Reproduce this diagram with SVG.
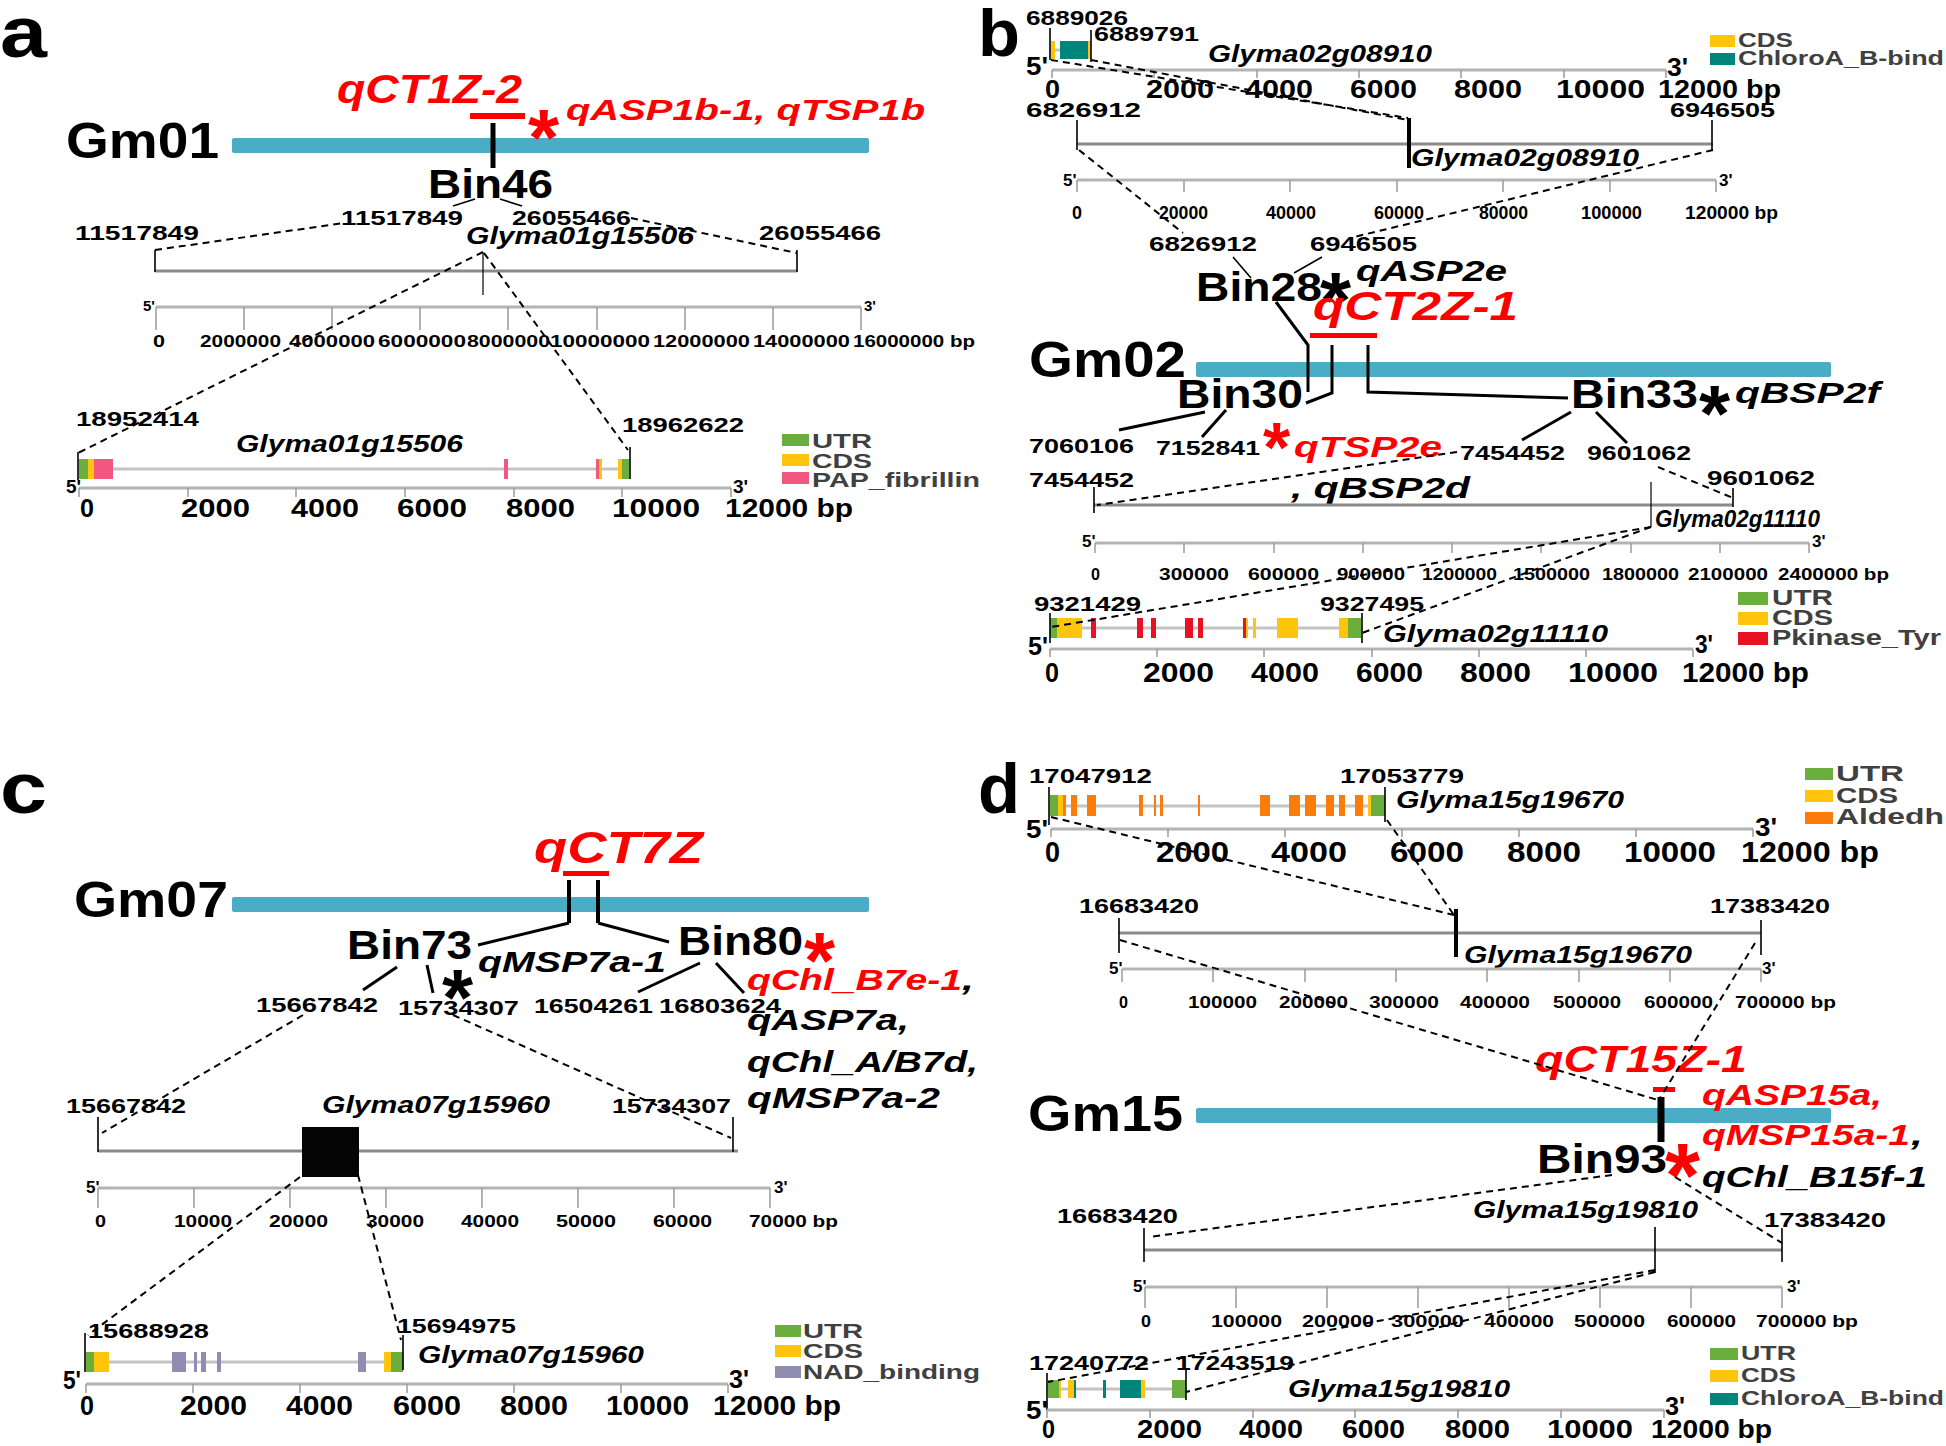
<svg xmlns="http://www.w3.org/2000/svg" width="1946" height="1446" viewBox="0 0 1946 1446">
<style>
text{font-family:"Liberation Sans",Arial,sans-serif;font-weight:bold;fill:#000}
.i{font-style:italic}
.r{fill:#ff0000}
.lg{fill:#404040}
.dash{stroke:#000;stroke-width:2;stroke-dasharray:7 5;fill:none}
.sol{stroke:#000;stroke-width:3;fill:none}
.thin{stroke:#000;stroke-width:1.6;fill:none}
.rul{stroke:#b4b4b4;stroke-width:3}
.tk{stroke:#9a9a9a;stroke-width:1.5;fill:none}
.sc{stroke:#8a8a8a;stroke-width:3}
.intr{stroke:#c4c4c4;stroke-width:3}
.bar{fill:#4bacc6}
.utr{fill:#6aaf3d}.cds{fill:#ffc40c}.pap{fill:#f1577f}.chl{fill:#00857a}.pk{fill:#e81224}.nad{fill:#8f8db0}.ald{fill:#fb7c0a}
</style>
<rect width="1946" height="1446" fill="#fff"/>

<!-- PANEL A -->
<g id="panel-a">
<text x="0" y="57" font-size="72" textLength="47" lengthAdjust="spacingAndGlyphs">a</text>
<g id="a-chrom">
<text x="66" y="158" font-size="50" textLength="153" lengthAdjust="spacingAndGlyphs">Gm01</text>
<rect class="bar" x="232" y="138" width="637" height="15" rx="2"/>
<line x1="493" y1="123" x2="493" y2="168" stroke="#000" stroke-width="5"/>
<text class="i r" x="337" y="103" font-size="40" textLength="185" lengthAdjust="spacingAndGlyphs">qCT1Z-2</text>
<rect x="470" y="113" width="55" height="6" fill="#ff0000"/>
<text class="r" x="528" y="165" font-size="80">*</text>
<text class="i r" x="566" y="120" font-size="30" textLength="359" lengthAdjust="spacingAndGlyphs">qASP1b-1, qTSP1b</text>
</g>
<g id="a-bin46">
<text x="428" y="198" font-size="40" textLength="125" lengthAdjust="spacingAndGlyphs">Bin46</text>
<text x="341" y="225" font-size="21" textLength="122" lengthAdjust="spacingAndGlyphs">11517849</text>
<text x="512" y="225" font-size="21" textLength="119" lengthAdjust="spacingAndGlyphs">26055466</text>
</g>
<g id="a-region">
<text x="75" y="240" font-size="21" textLength="124" lengthAdjust="spacingAndGlyphs">11517849</text>
<text x="759" y="240" font-size="21" textLength="122" lengthAdjust="spacingAndGlyphs">26055466</text>
<text class="i" x="466" y="244" font-size="24" textLength="228" lengthAdjust="spacingAndGlyphs">Glyma01g15506</text>
<line class="sc" x1="155" y1="271" x2="797" y2="271"/>
<path class="thin" d="M155 250V272M797 250V272"/>
<line x1="483" y1="252" x2="483" y2="295" stroke="#000" stroke-width="1.2"/>
<line class="rul" x1="156" y1="307" x2="861" y2="307"/>
<path class="tk" d="M156 307V330M244 307V330M332 307V330M420 307V330M508 307V330M597 307V330M685 307V330M773 307V330M861 307V330"/>
<text x="143" y="311" font-size="15">5'</text>
<text x="864" y="311" font-size="15">3'</text>
<g font-size="17">
<text x="153" y="347" textLength="12" lengthAdjust="spacingAndGlyphs">0</text>
<text x="200" y="347" textLength="81" lengthAdjust="spacingAndGlyphs">2000000</text>
<text x="289" y="347" textLength="86" lengthAdjust="spacingAndGlyphs">4000000</text>
<text x="378" y="347" textLength="88" lengthAdjust="spacingAndGlyphs">6000000</text>
<text x="467" y="347" textLength="83" lengthAdjust="spacingAndGlyphs">8000000</text>
<text x="550" y="347" textLength="100" lengthAdjust="spacingAndGlyphs">10000000</text>
<text x="653" y="347" textLength="97" lengthAdjust="spacingAndGlyphs">12000000</text>
<text x="753" y="347" textLength="97" lengthAdjust="spacingAndGlyphs">14000000</text>
<text x="853" y="347" textLength="122" lengthAdjust="spacingAndGlyphs">16000000 bp</text>
</g>
</g>
<g id="a-gene">
<text x="76" y="426" font-size="21" textLength="123" lengthAdjust="spacingAndGlyphs">18952414</text>
<text x="622" y="432" font-size="21" textLength="122" lengthAdjust="spacingAndGlyphs">18962622</text>
<text class="i" x="236" y="452" font-size="24" textLength="227" lengthAdjust="spacingAndGlyphs">Glyma01g15506</text>
<line class="intr" x1="78" y1="469" x2="630" y2="469"/>
<rect class="utr" x="79" y="459" width="9" height="20"/><rect class="cds" x="88" y="459" width="6" height="20"/><rect class="pap" x="94" y="459" width="19" height="20"/>
<rect class="pap" x="504" y="459" width="4" height="20"/><rect class="pap" x="596" y="459" width="3" height="20"/><rect class="cds" x="599" y="459" width="3" height="20"/>
<rect class="cds" x="618" y="459" width="4" height="20"/><rect class="utr" x="622" y="459" width="7" height="20"/>
<path class="thin" d="M78 452V480M630 447V479"/>
<line class="rul" x1="79" y1="488" x2="731" y2="488"/>
<path class="tk" d="M79 488V497M188 488V497M296 488V497M405 488V497M514 488V497M622 488V497M731 488V497"/>
<text x="66" y="493" font-size="19">5'</text>
<text x="733" y="493" font-size="19">3'</text>
<g font-size="25">
<text x="80" y="517" textLength="14" lengthAdjust="spacingAndGlyphs">0</text>
<text x="181" y="517" textLength="69" lengthAdjust="spacingAndGlyphs">2000</text>
<text x="291" y="517" textLength="68" lengthAdjust="spacingAndGlyphs">4000</text>
<text x="397" y="517" textLength="70" lengthAdjust="spacingAndGlyphs">6000</text>
<text x="506" y="517" textLength="69" lengthAdjust="spacingAndGlyphs">8000</text>
<text x="612" y="517" textLength="88" lengthAdjust="spacingAndGlyphs">10000</text>
<text x="725" y="517" textLength="128" lengthAdjust="spacingAndGlyphs">12000 bp</text>
</g>
</g>
<g id="a-legend">
<rect class="utr" x="782" y="434" width="27" height="12"/><rect class="cds" x="782" y="454" width="27" height="12"/><rect class="pap" x="782" y="472" width="27" height="12"/>
<text class="lg" x="812" y="448" font-size="20" textLength="60" lengthAdjust="spacingAndGlyphs">UTR</text>
<text class="lg" x="812" y="468" font-size="20" textLength="60" lengthAdjust="spacingAndGlyphs">CDS</text>
<text class="lg" x="812" y="487" font-size="20" textLength="168" lengthAdjust="spacingAndGlyphs">PAP_fibrillin</text>
</g>
</g>

<!-- PANEL B -->
<g id="panel-b">
<text x="978" y="56" font-size="66" textLength="42" lengthAdjust="spacingAndGlyphs">b</text>
<g id="b-gene1">
<text x="1026" y="25" font-size="21" textLength="102" lengthAdjust="spacingAndGlyphs">6889026</text>
<text x="1094" y="41" font-size="21" textLength="105" lengthAdjust="spacingAndGlyphs">6889791</text>
<line class="intr" x1="1050" y1="50" x2="1091" y2="50"/>
<rect class="cds" x="1051" y="41" width="4" height="18"/><rect class="chl" x="1060" y="41" width="28" height="18"/><rect class="cds" x="1088" y="41" width="3" height="18"/>
<path class="thin" d="M1050 28V60M1091 30V62"/>
<text class="i" x="1208" y="62" font-size="24" textLength="224" lengthAdjust="spacingAndGlyphs">Glyma02g08910</text>
<line class="rul" x1="1052" y1="70" x2="1666" y2="70"/>
<path class="tk" d="M1052 70V78M1154 70V78M1257 70V78M1359 70V78M1461 70V78M1564 70V78M1666 70V78"/>
<text x="1026" y="75" font-size="26" textLength="22" lengthAdjust="spacingAndGlyphs">5'</text>
<text x="1667" y="76" font-size="26" textLength="21" lengthAdjust="spacingAndGlyphs">3'</text>
<g font-size="25">
<text x="1045" y="98" textLength="15" lengthAdjust="spacingAndGlyphs">0</text>
<text x="1146" y="98" textLength="68" lengthAdjust="spacingAndGlyphs">2000</text>
<text x="1245" y="98" textLength="68" lengthAdjust="spacingAndGlyphs">4000</text>
<text x="1350" y="98" textLength="67" lengthAdjust="spacingAndGlyphs">6000</text>
<text x="1454" y="98" textLength="68" lengthAdjust="spacingAndGlyphs">8000</text>
<text x="1556" y="98" textLength="89" lengthAdjust="spacingAndGlyphs">10000</text>
<text x="1658" y="98" textLength="123" lengthAdjust="spacingAndGlyphs">12000 bp</text>
</g>
</g>
<g id="b-legend1">
<rect class="cds" x="1710" y="35" width="25" height="12"/><rect class="chl" x="1710" y="53" width="25" height="12"/>
<text class="lg" x="1738" y="47" font-size="21" textLength="55" lengthAdjust="spacingAndGlyphs">CDS</text>
<text class="lg" x="1738" y="65" font-size="21" textLength="206" lengthAdjust="spacingAndGlyphs">ChloroA_B-bind</text>
</g>
<g id="b-region1">
<text x="1026" y="117" font-size="21" textLength="115" lengthAdjust="spacingAndGlyphs">6826912</text>
<text x="1670" y="117" font-size="21" textLength="105" lengthAdjust="spacingAndGlyphs">6946505</text>
<line class="sc" x1="1077" y1="144" x2="1713" y2="144"/>
<path class="thin" d="M1077 120V150M1712 120V150"/>
<line x1="1409" y1="118" x2="1409" y2="168" stroke="#000" stroke-width="4"/>
<text class="i" x="1411" y="166" font-size="24" textLength="228" lengthAdjust="spacingAndGlyphs">Glyma02g08910</text>
<line class="rul" x1="1077" y1="180" x2="1716" y2="180"/>
<path class="tk" d="M1077 180V192M1184 180V192M1290 180V192M1397 180V192M1503 180V192M1610 180V192M1716 180V192"/>
<text x="1063" y="186" font-size="17">5'</text>
<text x="1719" y="186" font-size="17">3'</text>
<g font-size="19">
<text x="1072" y="219" textLength="10" lengthAdjust="spacingAndGlyphs">0</text>
<text x="1159" y="219" textLength="49" lengthAdjust="spacingAndGlyphs">20000</text>
<text x="1266" y="219" textLength="50" lengthAdjust="spacingAndGlyphs">40000</text>
<text x="1374" y="219" textLength="50" lengthAdjust="spacingAndGlyphs">60000</text>
<text x="1479" y="219" textLength="49" lengthAdjust="spacingAndGlyphs">80000</text>
<text x="1581" y="219" textLength="61" lengthAdjust="spacingAndGlyphs">100000</text>
<text x="1685" y="219" textLength="93" lengthAdjust="spacingAndGlyphs">120000 bp</text>
</g>
</g>
<g id="b-bin28">
<text x="1149" y="251" font-size="21" textLength="108" lengthAdjust="spacingAndGlyphs">6826912</text>
<text x="1310" y="251" font-size="21" textLength="107" lengthAdjust="spacingAndGlyphs">6946505</text>
<text x="1196" y="301" font-size="40" textLength="126" lengthAdjust="spacingAndGlyphs">Bin28</text>
<text x="1320" y="328" font-size="80">*</text>
<text class="i" x="1356" y="281" font-size="30" textLength="151" lengthAdjust="spacingAndGlyphs">qASP2e</text>
</g>
<g id="b-chrom">
<text class="i r" x="1313" y="320" font-size="40" textLength="205" lengthAdjust="spacingAndGlyphs">qCT2Z-1</text>
<rect x="1310" y="333" width="67" height="5" fill="#ff0000"/>
<text x="1029" y="377" font-size="50" textLength="157" lengthAdjust="spacingAndGlyphs">Gm02</text>
<rect class="bar" x="1196" y="362" width="635" height="15" rx="2"/>
</g>
<g id="b-bin30">
<text x="1177" y="408" font-size="40" textLength="126" lengthAdjust="spacingAndGlyphs">Bin30</text>
<text x="1029" y="453" font-size="21" textLength="105" lengthAdjust="spacingAndGlyphs">7060106</text>
<text x="1156" y="455" font-size="21" textLength="104" lengthAdjust="spacingAndGlyphs">7152841</text>
<text class="r" x="1263" y="472" font-size="70">*</text>
<text class="i r" x="1294" y="457" font-size="30" textLength="148" lengthAdjust="spacingAndGlyphs">qTSP2e</text>
</g>
<g id="b-bin33">
<text x="1571" y="408" font-size="40" textLength="127" lengthAdjust="spacingAndGlyphs">Bin33</text>
<text x="1699" y="441" font-size="80">*</text>
<text class="i" x="1735" y="403" font-size="29" textLength="145" lengthAdjust="spacingAndGlyphs">qBSP2f</text>
<text x="1460" y="460" font-size="21" textLength="105" lengthAdjust="spacingAndGlyphs">7454452</text>
<text x="1587" y="460" font-size="21" textLength="104" lengthAdjust="spacingAndGlyphs">9601062</text>
</g>
<g id="b-region2">
<text x="1029" y="487" font-size="21" textLength="105" lengthAdjust="spacingAndGlyphs">7454452</text>
<text x="1707" y="485" font-size="21" textLength="108" lengthAdjust="spacingAndGlyphs">9601062</text>
<text class="i" x="1291" y="498" font-size="30" textLength="179" lengthAdjust="spacingAndGlyphs">, qBSP2d</text>
<line class="sc" x1="1094" y1="505" x2="1733" y2="505"/>
<path class="thin" d="M1094 487V513M1733 488V507"/>
<line x1="1651" y1="482" x2="1651" y2="527" stroke="#000" stroke-width="1.2"/>
<text class="i" x="1655" y="527" font-size="24" textLength="165" lengthAdjust="spacingAndGlyphs">Glyma02g11110</text>
<line class="rul" x1="1095" y1="543" x2="1809" y2="543"/>
<path class="tk" d="M1095 543V553M1184 543V553M1274 543V553M1363 543V553M1452 543V553M1541 543V553M1631 543V553M1720 543V553M1809 543V553"/>
<text x="1082" y="547" font-size="17">5'</text>
<text x="1812" y="547" font-size="17">3'</text>
<g font-size="17">
<text x="1091" y="580" textLength="9" lengthAdjust="spacingAndGlyphs">0</text>
<text x="1159" y="580" textLength="70" lengthAdjust="spacingAndGlyphs">300000</text>
<text x="1248" y="580" textLength="71" lengthAdjust="spacingAndGlyphs">600000</text>
<text x="1337" y="580" textLength="68" lengthAdjust="spacingAndGlyphs">900000</text>
<text x="1422" y="580" textLength="75" lengthAdjust="spacingAndGlyphs">1200000</text>
<text x="1513" y="580" textLength="77" lengthAdjust="spacingAndGlyphs">1500000</text>
<text x="1602" y="580" textLength="77" lengthAdjust="spacingAndGlyphs">1800000</text>
<text x="1688" y="580" textLength="80" lengthAdjust="spacingAndGlyphs">2100000</text>
<text x="1778" y="580" textLength="111" lengthAdjust="spacingAndGlyphs">2400000 bp</text>
</g>
</g>
<g id="b-gene2">
<text x="1034" y="611" font-size="21" textLength="107" lengthAdjust="spacingAndGlyphs">9321429</text>
<text x="1320" y="611" font-size="21" textLength="104" lengthAdjust="spacingAndGlyphs">9327495</text>
<line class="intr" x1="1050" y1="628" x2="1362" y2="628"/>
<rect class="utr" x="1050" y="618" width="7" height="20"/><rect class="cds" x="1057" y="618" width="25" height="20"/>
<rect class="pk" x="1091" y="618" width="5" height="20"/><rect class="pk" x="1137" y="618" width="6" height="20"/><rect class="pk" x="1151" y="618" width="5" height="20"/>
<rect class="pk" x="1185" y="618" width="8" height="20"/><rect class="pk" x="1198" y="618" width="5" height="20"/>
<rect class="pk" x="1243" y="618" width="3" height="20"/><rect class="cds" x="1246" y="618" width="2" height="20"/><rect class="cds" x="1253" y="618" width="3" height="20"/>
<rect class="cds" x="1277" y="618" width="21" height="20"/><rect class="cds" x="1339" y="618" width="9" height="20"/><rect class="utr" x="1348" y="618" width="13" height="20"/>
<path class="thin" d="M1050 613V643M1362 613V643"/>
<text class="i" x="1383" y="642" font-size="24" textLength="225" lengthAdjust="spacingAndGlyphs">Glyma02g11110</text>
<line class="rul" x1="1050" y1="649" x2="1693" y2="649"/>
<path class="tk" d="M1050 649V657M1157 649V657M1264 649V657M1372 649V657M1479 649V657M1586 649V657M1693 649V657"/>
<text x="1028" y="655" font-size="26" textLength="20" lengthAdjust="spacingAndGlyphs">5'</text>
<text x="1695" y="653" font-size="26" textLength="18" lengthAdjust="spacingAndGlyphs">3'</text>
<g font-size="27">
<text x="1045" y="682" textLength="14" lengthAdjust="spacingAndGlyphs">0</text>
<text x="1143" y="682" textLength="71" lengthAdjust="spacingAndGlyphs">2000</text>
<text x="1251" y="682" textLength="68" lengthAdjust="spacingAndGlyphs">4000</text>
<text x="1356" y="682" textLength="67" lengthAdjust="spacingAndGlyphs">6000</text>
<text x="1460" y="682" textLength="71" lengthAdjust="spacingAndGlyphs">8000</text>
<text x="1568" y="682" textLength="90" lengthAdjust="spacingAndGlyphs">10000</text>
<text x="1682" y="682" textLength="127" lengthAdjust="spacingAndGlyphs">12000 bp</text>
</g>
</g>
<g id="b-legend2">
<rect class="utr" x="1738" y="592" width="30" height="13"/><rect class="cds" x="1738" y="612" width="30" height="13"/><rect class="pk" x="1738" y="632" width="30" height="13"/>
<text class="lg" x="1772" y="605" font-size="22" textLength="61" lengthAdjust="spacingAndGlyphs">UTR</text>
<text class="lg" x="1772" y="625" font-size="22" textLength="61" lengthAdjust="spacingAndGlyphs">CDS</text>
<text class="lg" x="1772" y="645" font-size="22" textLength="169" lengthAdjust="spacingAndGlyphs">Pkinase_Tyr</text>
</g>
</g>

<!-- PANEL C -->
<g id="panel-c">
<text x="0" y="813" font-size="72" textLength="47" lengthAdjust="spacingAndGlyphs">c</text>
<g id="c-chrom">
<text class="i r" x="534" y="863" font-size="44" textLength="169" lengthAdjust="spacingAndGlyphs">qCT7Z</text>
<rect x="563" y="871" width="46" height="5" fill="#ff0000"/>
<text x="74" y="917" font-size="50" textLength="154" lengthAdjust="spacingAndGlyphs">Gm07</text>
<rect class="bar" x="232" y="897" width="637" height="15" rx="2"/>
</g>
<g id="c-bin73">
<text x="347" y="959" font-size="40" textLength="125" lengthAdjust="spacingAndGlyphs">Bin73</text>
<text class="i" x="478" y="972" font-size="30" textLength="188" lengthAdjust="spacingAndGlyphs">qMSP7a-1</text>
<text x="442" y="1025" font-size="80">*</text>
<text x="256" y="1012" font-size="21" textLength="122" lengthAdjust="spacingAndGlyphs">15667842</text>
<text x="398" y="1015" font-size="21" textLength="121" lengthAdjust="spacingAndGlyphs">15734307</text>
</g>
<g id="c-bin80">
<text x="678" y="955" font-size="40" textLength="125" lengthAdjust="spacingAndGlyphs">Bin80</text>
<text class="r" x="804" y="988" font-size="80">*</text>
<text x="534" y="1013" font-size="21" textLength="119" lengthAdjust="spacingAndGlyphs">16504261</text>
<text x="659" y="1013" font-size="21" textLength="122" lengthAdjust="spacingAndGlyphs">16803624</text>
<text class="i r" x="747" y="990" font-size="30" textLength="215" lengthAdjust="spacingAndGlyphs">qChl_B7e-1</text>
<text class="i" x="962" y="990" font-size="30" textLength="12" lengthAdjust="spacingAndGlyphs">,</text>
<text class="i" x="747" y="1030" font-size="30" textLength="162" lengthAdjust="spacingAndGlyphs">qASP7a,</text>
<text class="i" x="747" y="1072" font-size="30" textLength="231" lengthAdjust="spacingAndGlyphs">qChl_A/B7d,</text>
<text class="i" x="747" y="1108" font-size="30" textLength="193" lengthAdjust="spacingAndGlyphs">qMSP7a-2</text>
</g>
<g id="c-region">
<text x="66" y="1113" font-size="21" textLength="120" lengthAdjust="spacingAndGlyphs">15667842</text>
<text class="i" x="322" y="1113" font-size="24" textLength="228" lengthAdjust="spacingAndGlyphs">Glyma07g15960</text>
<text x="612" y="1113" font-size="21" textLength="119" lengthAdjust="spacingAndGlyphs">15734307</text>
<line class="sc" x1="98" y1="1151" x2="738" y2="1151"/>
<path class="thin" d="M98 1117V1152M733 1117V1152"/>
<rect x="302" y="1127" width="57" height="50" fill="#050505"/>
<line class="rul" x1="98" y1="1188" x2="770" y2="1188"/>
<path class="tk" d="M98 1188V1208M194 1188V1208M290 1188V1208M386 1188V1208M482 1188V1208M578 1188V1208M674 1188V1208M770 1188V1208"/>
<text x="86" y="1193" font-size="17">5'</text>
<text x="774" y="1193" font-size="17">3'</text>
<g font-size="17">
<text x="95" y="1227" textLength="11" lengthAdjust="spacingAndGlyphs">0</text>
<text x="174" y="1227" textLength="58" lengthAdjust="spacingAndGlyphs">10000</text>
<text x="269" y="1227" textLength="59" lengthAdjust="spacingAndGlyphs">20000</text>
<text x="366" y="1227" textLength="58" lengthAdjust="spacingAndGlyphs">30000</text>
<text x="461" y="1227" textLength="58" lengthAdjust="spacingAndGlyphs">40000</text>
<text x="556" y="1227" textLength="60" lengthAdjust="spacingAndGlyphs">50000</text>
<text x="653" y="1227" textLength="59" lengthAdjust="spacingAndGlyphs">60000</text>
<text x="749" y="1227" textLength="89" lengthAdjust="spacingAndGlyphs">70000 bp</text>
</g>
</g>
<g id="c-gene">
<text x="88" y="1338" font-size="21" textLength="121" lengthAdjust="spacingAndGlyphs">15688928</text>
<text x="397" y="1333" font-size="21" textLength="119" lengthAdjust="spacingAndGlyphs">15694975</text>
<line class="intr" x1="85" y1="1362" x2="403" y2="1362"/>
<rect class="utr" x="86" y="1352" width="8" height="20"/><rect class="cds" x="94" y="1352" width="15" height="20"/>
<rect class="nad" x="172" y="1352" width="14" height="20"/><rect class="nad" x="194" y="1352" width="3" height="20"/><rect class="nad" x="201" y="1352" width="5" height="20"/>
<rect class="nad" x="217" y="1352" width="4" height="20"/><rect class="nad" x="358" y="1352" width="8" height="20"/>
<rect class="cds" x="384" y="1352" width="7" height="20"/><rect class="utr" x="391" y="1352" width="12" height="20"/>
<path class="thin" d="M85 1333V1372M403 1335V1370"/>
<text class="i" x="418" y="1363" font-size="24" textLength="226" lengthAdjust="spacingAndGlyphs">Glyma07g15960</text>
<line class="rul" x1="86" y1="1384" x2="728" y2="1384"/>
<path class="tk" d="M86 1384V1393M193 1384V1393M300 1384V1393M407 1384V1393M514 1384V1393M621 1384V1393M728 1384V1393"/>
<text x="63" y="1389" font-size="26" textLength="18" lengthAdjust="spacingAndGlyphs">5'</text>
<text x="729" y="1388" font-size="26" textLength="20" lengthAdjust="spacingAndGlyphs">3'</text>
<g font-size="27">
<text x="80" y="1415" textLength="14" lengthAdjust="spacingAndGlyphs">0</text>
<text x="180" y="1415" textLength="67" lengthAdjust="spacingAndGlyphs">2000</text>
<text x="286" y="1415" textLength="67" lengthAdjust="spacingAndGlyphs">4000</text>
<text x="393" y="1415" textLength="68" lengthAdjust="spacingAndGlyphs">6000</text>
<text x="500" y="1415" textLength="68" lengthAdjust="spacingAndGlyphs">8000</text>
<text x="606" y="1415" textLength="83" lengthAdjust="spacingAndGlyphs">10000</text>
<text x="713" y="1415" textLength="128" lengthAdjust="spacingAndGlyphs">12000 bp</text>
</g>
</g>
<g id="c-legend">
<rect class="utr" x="775" y="1325" width="26" height="12"/><rect class="cds" x="775" y="1345" width="26" height="12"/><rect class="nad" x="775" y="1366" width="26" height="12"/>
<text class="lg" x="803" y="1338" font-size="21" textLength="60" lengthAdjust="spacingAndGlyphs">UTR</text>
<text class="lg" x="803" y="1358" font-size="21" textLength="60" lengthAdjust="spacingAndGlyphs">CDS</text>
<text class="lg" x="803" y="1379" font-size="21" textLength="177" lengthAdjust="spacingAndGlyphs">NAD_binding</text>
</g>
</g>

<!-- PANEL D -->
<g id="panel-d">
<text x="978" y="813" font-size="70" textLength="42" lengthAdjust="spacingAndGlyphs">d</text>
<g id="d-gene1">
<text x="1029" y="783" font-size="21" textLength="123" lengthAdjust="spacingAndGlyphs">17047912</text>
<text x="1340" y="783" font-size="21" textLength="124" lengthAdjust="spacingAndGlyphs">17053779</text>
<line class="intr" x1="1049" y1="806" x2="1385" y2="806"/>
<rect class="utr" x="1050" y="795" width="8" height="21"/><rect class="cds" x="1058" y="795" width="5" height="21"/>
<g class="ald">
<rect x="1063" y="795" width="3" height="21"/><rect x="1071" y="795" width="6" height="21"/><rect x="1087" y="795" width="9" height="21"/>
<rect x="1139" y="795" width="4" height="21"/><rect x="1154" y="795" width="2" height="21"/><rect x="1160" y="795" width="3" height="21"/>
<rect x="1198" y="795" width="2" height="21"/><rect x="1260" y="795" width="10" height="21"/><rect x="1289" y="795" width="11" height="21"/>
<rect x="1305" y="795" width="11" height="21"/><rect x="1326" y="795" width="8" height="21"/><rect x="1339" y="795" width="6" height="21"/>
<rect x="1355" y="795" width="8" height="21"/>
</g>
<rect class="cds" x="1368" y="795" width="3" height="21"/><rect class="utr" x="1371" y="795" width="14" height="21"/>
<path class="thin" d="M1049 787V825M1385 787V822"/>
<text class="i" x="1396" y="808" font-size="24" textLength="228" lengthAdjust="spacingAndGlyphs">Glyma15g19670</text>
<line class="rul" x1="1051" y1="829" x2="1753" y2="829"/>
<path class="tk" d="M1051 829V837M1168 829V837M1285 829V837M1402 829V837M1519 829V837M1636 829V837M1753 829V837"/>
<text x="1026" y="838" font-size="26" textLength="22" lengthAdjust="spacingAndGlyphs">5'</text>
<text x="1755" y="836" font-size="26" textLength="22" lengthAdjust="spacingAndGlyphs">3'</text>
<g font-size="29">
<text x="1045" y="862" textLength="15" lengthAdjust="spacingAndGlyphs">0</text>
<text x="1156" y="862" textLength="73" lengthAdjust="spacingAndGlyphs">2000</text>
<text x="1271" y="862" textLength="76" lengthAdjust="spacingAndGlyphs">4000</text>
<text x="1390" y="862" textLength="74" lengthAdjust="spacingAndGlyphs">6000</text>
<text x="1507" y="862" textLength="74" lengthAdjust="spacingAndGlyphs">8000</text>
<text x="1624" y="862" textLength="92" lengthAdjust="spacingAndGlyphs">10000</text>
<text x="1741" y="862" textLength="138" lengthAdjust="spacingAndGlyphs">12000 bp</text>
</g>
</g>
<g id="d-legend1">
<rect class="utr" x="1805" y="768" width="28" height="12"/><rect class="cds" x="1805" y="790" width="28" height="12"/><rect class="ald" x="1805" y="812" width="28" height="12"/>
<text class="lg" x="1836" y="781" font-size="22" textLength="68" lengthAdjust="spacingAndGlyphs">UTR</text>
<text class="lg" x="1836" y="803" font-size="22" textLength="62" lengthAdjust="spacingAndGlyphs">CDS</text>
<text class="lg" x="1836" y="824" font-size="22" textLength="108" lengthAdjust="spacingAndGlyphs">Aldedh</text>
</g>
<g id="d-region1">
<text x="1079" y="913" font-size="21" textLength="120" lengthAdjust="spacingAndGlyphs">16683420</text>
<text x="1710" y="913" font-size="21" textLength="120" lengthAdjust="spacingAndGlyphs">17383420</text>
<line class="sc" x1="1119" y1="933" x2="1761" y2="933"/>
<path class="thin" d="M1119 918V953M1761 920V955"/>
<line x1="1456" y1="909" x2="1456" y2="957" stroke="#000" stroke-width="4"/>
<text class="i" x="1464" y="963" font-size="24" textLength="228" lengthAdjust="spacingAndGlyphs">Glyma15g19670</text>
<line class="rul" x1="1122" y1="969" x2="1761" y2="969"/>
<path class="tk" d="M1122 969V982M1213 969V982M1305 969V982M1396 969V982M1487 969V982M1579 969V982M1670 969V982M1761 969V982"/>
<text x="1109" y="974" font-size="17">5'</text>
<text x="1762" y="974" font-size="17">3'</text>
<g font-size="17">
<text x="1119" y="1008" textLength="9" lengthAdjust="spacingAndGlyphs">0</text>
<text x="1188" y="1008" textLength="69" lengthAdjust="spacingAndGlyphs">100000</text>
<text x="1279" y="1008" textLength="69" lengthAdjust="spacingAndGlyphs">200000</text>
<text x="1369" y="1008" textLength="70" lengthAdjust="spacingAndGlyphs">300000</text>
<text x="1460" y="1008" textLength="70" lengthAdjust="spacingAndGlyphs">400000</text>
<text x="1553" y="1008" textLength="68" lengthAdjust="spacingAndGlyphs">500000</text>
<text x="1644" y="1008" textLength="69" lengthAdjust="spacingAndGlyphs">600000</text>
<text x="1735" y="1008" textLength="101" lengthAdjust="spacingAndGlyphs">700000 bp</text>
</g>
</g>
<g id="d-chrom">
<text class="i r" x="1535" y="1072" font-size="36" textLength="212" lengthAdjust="spacingAndGlyphs">qCT15Z-1</text>
<rect x="1653" y="1087" width="22" height="5" fill="#ff0000"/>
<text x="1028" y="1131" font-size="50" textLength="155" lengthAdjust="spacingAndGlyphs">Gm15</text>
<rect class="bar" x="1196" y="1108" width="635" height="15" rx="2"/>
<line x1="1661" y1="1097" x2="1661" y2="1142" stroke="#000" stroke-width="7"/>
<text class="i r" x="1702" y="1105" font-size="30" textLength="180" lengthAdjust="spacingAndGlyphs">qASP15a,</text>
<text class="i r" x="1702" y="1145" font-size="30" textLength="208" lengthAdjust="spacingAndGlyphs">qMSP15a-1</text>
<text class="i" x="1911" y="1145" font-size="30" textLength="12" lengthAdjust="spacingAndGlyphs">,</text>
</g>
<g id="d-bin93">
<text x="1537" y="1173" font-size="40" textLength="130" lengthAdjust="spacingAndGlyphs">Bin93</text>
<text class="r" x="1665" y="1207" font-size="90">*</text>
<text class="i" x="1702" y="1187" font-size="30" textLength="225" lengthAdjust="spacingAndGlyphs">qChl_B15f-1</text>
</g>
<g id="d-region2">
<text x="1057" y="1223" font-size="21" textLength="121" lengthAdjust="spacingAndGlyphs">16683420</text>
<text class="i" x="1473" y="1218" font-size="24" textLength="225" lengthAdjust="spacingAndGlyphs">Glyma15g19810</text>
<text x="1764" y="1227" font-size="21" textLength="122" lengthAdjust="spacingAndGlyphs">17383420</text>
<line class="sc" x1="1144" y1="1250" x2="1782" y2="1250"/>
<path class="thin" d="M1144 1228V1262M1782 1228V1262"/>
<line x1="1655" y1="1227" x2="1655" y2="1273" stroke="#000" stroke-width="1.6"/>
<line class="rul" x1="1145" y1="1287" x2="1782" y2="1287"/>
<path class="tk" d="M1145 1287V1308M1236 1287V1308M1327 1287V1308M1418 1287V1308M1509 1287V1308M1600 1287V1308M1691 1287V1308M1782 1287V1308"/>
<text x="1133" y="1292" font-size="17">5'</text>
<text x="1787" y="1292" font-size="17">3'</text>
<g font-size="17">
<text x="1141" y="1327" textLength="10" lengthAdjust="spacingAndGlyphs">0</text>
<text x="1211" y="1327" textLength="71" lengthAdjust="spacingAndGlyphs">100000</text>
<text x="1302" y="1327" textLength="72" lengthAdjust="spacingAndGlyphs">200000</text>
<text x="1391" y="1327" textLength="73" lengthAdjust="spacingAndGlyphs">300000</text>
<text x="1484" y="1327" textLength="70" lengthAdjust="spacingAndGlyphs">400000</text>
<text x="1574" y="1327" textLength="71" lengthAdjust="spacingAndGlyphs">500000</text>
<text x="1667" y="1327" textLength="69" lengthAdjust="spacingAndGlyphs">600000</text>
<text x="1756" y="1327" textLength="102" lengthAdjust="spacingAndGlyphs">700000 bp</text>
</g>
</g>
<g id="d-gene2">
<text x="1029" y="1370" font-size="21" textLength="120" lengthAdjust="spacingAndGlyphs">17240772</text>
<text x="1176" y="1370" font-size="21" textLength="118" lengthAdjust="spacingAndGlyphs">17243519</text>
<line class="intr" x1="1047" y1="1389" x2="1186" y2="1389"/>
<rect class="utr" x="1048" y="1380" width="11" height="18"/><rect class="cds" x="1059" y="1380" width="2" height="18"/>
<rect class="cds" x="1068" y="1380" width="6" height="18"/><rect class="chl" x="1074" y="1380" width="2" height="18"/>
<rect class="chl" x="1103" y="1380" width="3" height="18"/><rect class="chl" x="1120" y="1380" width="21" height="18"/><rect class="cds" x="1141" y="1380" width="4" height="18"/>
<rect class="utr" x="1172" y="1380" width="14" height="18"/>
<path class="thin" d="M1047 1373V1410M1186 1370V1400"/>
<text class="i" x="1288" y="1397" font-size="24" textLength="222" lengthAdjust="spacingAndGlyphs">Glyma15g19810</text>
<line class="rul" x1="1047" y1="1410" x2="1664" y2="1410"/>
<path class="tk" d="M1047 1410V1418M1150 1410V1418M1253 1410V1418M1355 1410V1418M1458 1410V1418M1561 1410V1418M1664 1410V1418"/>
<text x="1026" y="1419" font-size="26" textLength="22" lengthAdjust="spacingAndGlyphs">5'</text>
<text x="1665" y="1415" font-size="26" textLength="20" lengthAdjust="spacingAndGlyphs">3'</text>
<g font-size="25">
<text x="1042" y="1438" textLength="13" lengthAdjust="spacingAndGlyphs">0</text>
<text x="1137" y="1438" textLength="65" lengthAdjust="spacingAndGlyphs">2000</text>
<text x="1239" y="1438" textLength="64" lengthAdjust="spacingAndGlyphs">4000</text>
<text x="1342" y="1438" textLength="63" lengthAdjust="spacingAndGlyphs">6000</text>
<text x="1445" y="1438" textLength="65" lengthAdjust="spacingAndGlyphs">8000</text>
<text x="1547" y="1438" textLength="86" lengthAdjust="spacingAndGlyphs">10000</text>
<text x="1651" y="1438" textLength="121" lengthAdjust="spacingAndGlyphs">12000 bp</text>
</g>
</g>
<g id="d-legend2">
<rect class="utr" x="1710" y="1348" width="28" height="12"/><rect class="cds" x="1710" y="1370" width="28" height="12"/><rect class="chl" x="1710" y="1393" width="28" height="12"/>
<text class="lg" x="1741" y="1360" font-size="21" textLength="55" lengthAdjust="spacingAndGlyphs">UTR</text>
<text class="lg" x="1741" y="1382" font-size="21" textLength="55" lengthAdjust="spacingAndGlyphs">CDS</text>
<text class="lg" x="1741" y="1405" font-size="21" textLength="203" lengthAdjust="spacingAndGlyphs">ChloroA_B-bind</text>
</g>
</g>

<!-- CONNECTORS -->
<g id="connectors">
<path class="thin" d="M453 206L475 199M500 199L522 206" stroke-width="2"/>
<path class="dash" d="M155 250L344 223M631 218L797 253M483 252L78 453M484 253L628 450"/>
<path class="dash" d="M1051 60L1408 118M1091 60L1408 120M1079 150L1183 233M1713 150L1350 238"/>
<path class="thin" d="M1233 257L1251 278M1322 257L1294 273" stroke-width="2.5"/>
<polyline class="sol" points="1276,302 1308,345 1308,392"/>
<polyline class="sol" points="1332,345 1332,393 1306,403"/>
<polyline class="sol" points="1368,345 1368,392 1568,398"/>
<path class="sol" d="M1205 412L1119 430M1226 410L1202 437M1571 412L1522 440M1596 412L1627 443" stroke-width="2.5"/>
<path class="dash" d="M1457 452L1097 505M1658 467L1733 498M1651 527L1051 627M1651 527L1362 633"/>
<line x1="569" y1="880" x2="569" y2="923" stroke="#000" stroke-width="4"/>
<line x1="598" y1="880" x2="598" y2="923" stroke="#000" stroke-width="4"/>
<path class="sol" d="M569 923L478 945M598 923L669 942"/>
<path class="sol" d="M397 967L363 990M427 965L433 993M700 963L638 992M716 963L744 993" stroke-width="2.5"/>
<path class="dash" d="M303 1015L102 1133M453 1015L731 1138M300 1177L88 1335M358 1175L401 1340"/>
<path class="dash" d="M1051 817L1454 915M1387 820L1454 915M1120 940L1658 1100M1755 943L1660 1098"/>
<path class="dash" d="M1612 1175L1149 1237M1675 1177L1782 1243M1655 1270L1048 1382M1655 1272L1186 1392"/>
</g>
</svg>
